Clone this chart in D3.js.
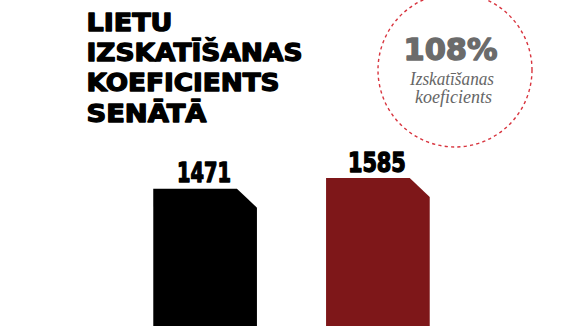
<!DOCTYPE html>
<html>
<head>
<meta charset="utf-8">
<script src="https://cdn.jsdelivr.net/npm/d3@7"></script>
<style>
  html, body { margin: 0; padding: 0; background: #fff; }
  svg { display: block; }
</style>
</head>
<body>
<div id="chart"></div>
<script>
// data
var categories = ["pirms", "pēc"];
var values = [1471, 1585];
var valueLabels = ["1471", "1585"];
var barColors = ["#000000", "#7e1719"];
var titleLines = ["LIETU", "IZSKATĪŠANAS", "KOEFICIENTS", "SENĀTĀ"];
var titleWidths = [86, 216, 193, 120];
var ratioText = "108%";
var ratioCaption = ["Izskatīšanas", "koeficients"];

var width = 588, height = 326;

var svg = d3.select("#chart").append("svg")
    .attr("width", width)
    .attr("height", height);

// heavy look: bold face plus a thin stroke of the same colour
function heavy(sel, color, sw) {
    sel.style("font-family", "'DejaVu Sans', sans-serif")
        .style("font-weight", "bold")
        .style("fill", color)
        .style("stroke", color)
        .style("stroke-width", sw)
        .style("stroke-linejoin", "round");
}

// title
var title = svg.append("g").attr("class", "title");
title.selectAll("text")
    .data(titleLines)
    .enter().append("text")
    .attr("x", 86.5)
    .attr("y", function(d, i) { return 30.5 + i * 30.4; })
    .attr("textLength", function(d, i) { return titleWidths[i]; })
    .attr("lengthAdjust", "spacingAndGlyphs")
    .style("font-size", "24px")
    .text(function(d) { return d; })
    .call(heavy, "#000", 1.3);

// dashed circle with the ratio
var badge = svg.append("g").attr("class", "badge");
badge.append("circle")
    .attr("cx", 455)
    .attr("cy", 70)
    .attr("r", 77)
    .style("fill", "none")
    .style("stroke", "#d8343e")
    .style("stroke-width", 1.4)
    .style("stroke-dasharray", "3.2,3.2");

badge.append("text")
    .attr("x", 450.5)
    .attr("y", 60)
    .attr("text-anchor", "middle")
    .attr("textLength", 94)
    .attr("lengthAdjust", "spacingAndGlyphs")
    .style("font-size", "30px")
    .text(ratioText)
    .call(heavy, "#6b6b6b", 1.4);

badge.selectAll("text.caption")
    .data(ratioCaption)
    .enter().append("text")
    .attr("class", "caption")
    .attr("x", function(d, i) { return i === 0 ? 452 : 453.5; })
    .attr("y", function(d, i) { return 85 + i * 18; })
    .attr("text-anchor", "middle")
    .attr("textLength", function(d, i) { return i === 0 ? 84 : 77; })
    .attr("lengthAdjust", "spacingAndGlyphs")
    .style("font-family", "'Liberation Serif', serif")
    .style("font-style", "italic")
    .style("font-size", "19px")
    .style("fill", "#666")
    .text(function(d) { return d; });

// bars
var x = d3.scaleBand()
    .domain(categories)
    .range([136, 447])
    .paddingInner(0.4)
    .paddingOuter(0.1);

var y = d3.scaleLinear()
    .domain([0, d3.max(values)])
    .range([height, 178]);

var cutW = 20, cutH = 19;

var plot = svg.append("g").attr("class", "plot");

plot.selectAll("path")
    .data(values)
    .enter().append("path")
    .attr("d", function(d, i) {
        var x0 = x(categories[i]), x1 = x0 + x.bandwidth();
        var top = y(d), base = y(0);
        return "M" + x0 + "," + base +
            "L" + x0 + "," + top +
            "L" + (x1 - cutW) + "," + top +
            "L" + x1 + "," + (top + cutH) +
            "L" + x1 + "," + base + "Z";
    })
    .style("fill", function(d, i) { return barColors[i]; });

plot.selectAll("text")
    .data(values)
    .enter().append("text")
    .attr("x", function(d, i) { return x(categories[i]) + x.bandwidth() / 2 - 1; })
    .attr("y", function(d) { return y(d) - 6.5; })
    .attr("text-anchor", "middle")
    .attr("textLength", function(d, i) { return i === 0 ? 54 : 58; })
    .attr("lengthAdjust", "spacingAndGlyphs")
    .style("font-size", "26px")
    .text(function(d, i) { return valueLabels[i]; })
    .call(heavy, "#000", 1.4);
</script>
</body>
</html>
